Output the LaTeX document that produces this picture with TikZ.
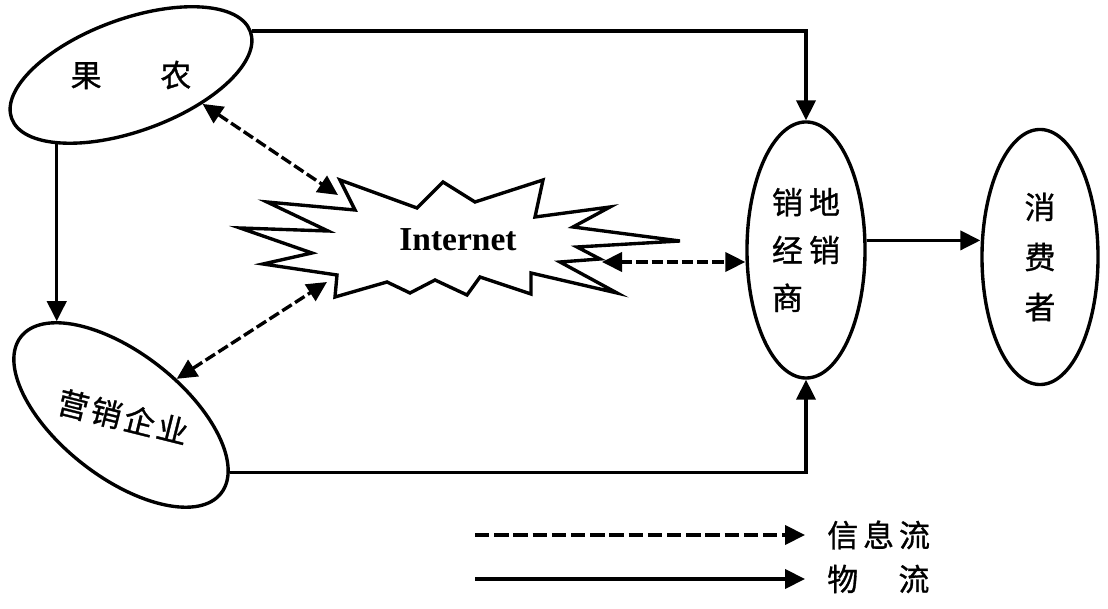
\documentclass[tikz,border=0pt]{standalone}
\usepackage{fontspec}
\setmainfont{Liberation Serif}
\newfontfamily\cjk[FakeBold=1]{Noto Sans CJK SC}
\usepackage{tikz}
\usetikzlibrary{arrows.meta,positioning,shapes.geometric,calc}
\tikzset{
  oval/.style={
    draw,
    ellipse,
    line width=2.4pt,
    inner sep=0pt,
    fill=white
  },
  zhtext/.style={
    font=\cjk\fontsize{22}{34}\selectfont,
    align=center,
    inner sep=0pt
  },
  nettext/.style={
    font=\bfseries\fontsize{23.8}{28}\selectfont,
    inner sep=0pt
  },
  burst/.style={line width=2.4pt},
  wuliu/.style={-{Triangle[length=0.5cm,width=0.48cm]},line width=2.4pt},
  xinxi/.style={{Triangle[length=0.5cm,width=0.48cm]}-{Triangle[length=0.5cm,width=0.48cm]},line width=2.4pt,dash pattern=on 0.28cm off 0.1cm},
  xinxione/.style={-{Triangle[length=0.5cm,width=0.48cm]},line width=2.4pt,dash pattern=on 0.36cm off 0.12cm}
}

\begin{document}
\begin{tikzpicture}[x=0.025cm,y=0.025cm]
  \useasboundingbox (0,0) rectangle (1108,609);
  \node[oval,rotate=20,minimum width=6.35cm,minimum height=2.8cm] (guonong) at (131,534) {};
  \node[zhtext] (guonongtxt) at (guonong.center) {果\hspace{1.9em}农};
  \node[oval,rotate=-38,minimum width=6.35cm,minimum height=3.1cm] (yingxiao) at (121,194) {};
  \node[zhtext,rotate=-14] (yingxiaotxt) at (123,192) {营\hspace{0.1em}销\hspace{0.1em}企\hspace{0.1em}业};
  \node[oval,zhtext,align=left,minimum width=2.95cm,minimum height=6.4cm] (xiaodi) at (806,359) {
    销\hspace{0.2em}地\\
    经\hspace{0.2em}销\\
    商
  };
  \node[oval,zhtext,font=\cjk\fontsize{22}{35.6}\selectfont,minimum width=2.9cm,minimum height=6.375cm] (xiaofei) at (1040,352) {
    消\\
    费\\
    者
  };
  \draw[burst] (340,429) -- (417,401) -- (443,427) -- (475,407) -- (543,429)
    -- (535,392) -- (610,402) -- (573,382) -- (680,368) -- (577,362)
    -- (600,350) -- (560,347) -- (617,316) -- (531,336) -- (531,315)
    -- (480,332) -- (467,314) -- (435,329) -- (410,316) -- (387,327)
    -- (335,312) -- (337,334) -- (263,345) -- (312,356) -- (240,381)
    -- (328,378) -- (267,407) -- (355,399) -- cycle;
  \node[nettext] (net) at (458,369) {Internet};
  \coordinate (nettl) at (338,414);
  \coordinate (netbl) at (327,327);
  \coordinate (netr) at (602,347);
  \draw[wuliu] (guonong.east) -| (xiaodi.north);
  \draw[wuliu] (guonong.-157) -- (guonong.-157 |- yingxiao.163);
  \draw[wuliu] (yingxiao.10) -| (xiaodi.south);
  \draw[wuliu] (xiaodi.9) -- (xiaodi.9 -| xiaofei.west);
  \draw[xinxi] (guonong.-42) -- (nettl);
  \draw[xinxi] (yingxiao.71) -- (netbl);
  \draw[xinxi] (netr) -- (netr -| xiaodi.west);
  \coordinate (legxinxi) at (475,74);
  \node[zhtext,anchor=west] (xinxilab) at (827,74) {信\hspace{0.16em}息\hspace{0.16em}流};
  \draw[xinxione] (legxinxi) -- ([xshift=-0.55cm]xinxilab.west);
  \coordinate (legwuliu) at (475,30);
  \node[zhtext,anchor=west] (wuliulab) at (827,30) {物\hspace{1.3em}流};
  \draw[wuliu] (legwuliu) -- ([xshift=-0.55cm]wuliulab.west);
\end{tikzpicture}
\end{document}
